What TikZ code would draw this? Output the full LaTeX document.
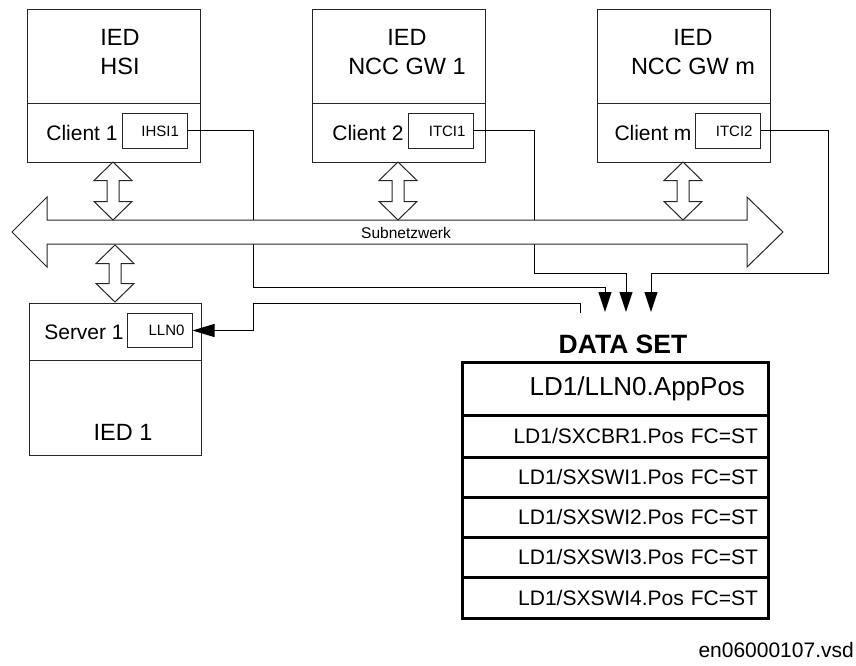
\documentclass[tikz,border=0pt]{standalone}
\usepackage{fontspec}
\setmainfont{Liberation Sans}
\usetikzlibrary{arrows.meta}

% vertical double-headed block arrow: centre x, top y, bottom y
\newcommand\blockdarrow[3]{%
  \draw[blockarrow] (#1,#2) -- (#1+19,#2+18.5) -- (#1+6,#2+18.5) -- (#1+6,#3-18.5)
    -- (#1+19,#3-18.5) -- (#1,#3) -- (#1-19,#3-18.5) -- (#1-6,#3-18.5)
    -- (#1-6,#2+18.5) -- (#1-19,#2+18.5) -- cycle;}

\tikzset{
  thinline/.style={draw=black!85, line width=1pt},
  iedbox/.style={thinline, anchor=north west, minimum width=173pt, minimum height=152pt,
    inner sep=0pt, outer sep=0pt},
  smallbox/.style={thinline, minimum width=65pt, minimum height=34pt, text width=49pt,
    align=right, inner xsep=8pt, inner ysep=0pt, outer sep=0pt,
    font=\fontsize{15}{18}\selectfont},
  biglabel/.style={align=center, inner sep=0pt, font=\fontsize{23.5}{29}\selectfont},
  midlabel/.style={inner sep=0pt, font=\fontsize{21}{25}\selectfont},
  blockarrow/.style={thinline, fill=white, line join=miter},
  feed/.style={draw=black, line width=1pt, -{Triangle[length=20pt,width=13pt]}},
  dsrow/.style={draw=black, line width=3pt, anchor=north west, minimum height=40pt,
    text width=286pt, inner xsep=10pt, inner ysep=0pt, outer sep=0pt, align=right,
    font=\fontsize{21}{24}\selectfont},
}

\begin{document}
\begin{tikzpicture}[x=1pt, y=-1pt]
\useasboundingbox (0,0) rectangle (856,666);

% IED boxes
\node[iedbox] (hsi)  at (27,10)  {};
\node[iedbox] (ncc1) at (312,10) {};
\node[iedbox] (nccm) at (597,10) {};
\node[iedbox, minimum width=172pt] (ied1) at (29,303) {};
\draw[thinline] (hsi.north west)  ++(0,94) -- ++(173,0);
\draw[thinline] (ncc1.north west) ++(0,94) -- ++(173,0);
\draw[thinline] (nccm.north west) ++(0,94) -- ++(173,0);
\draw[thinline] (ied1.north west) ++(0,57) -- ++(172,0);

\node[biglabel] (hsiname)  at (120,52) {IED\\HSI};
\node[biglabel] (ncc1name) at (407,52) {IED\\NCC GW 1};
\node[biglabel] (nccmname) at (693,52) {IED\\NCC GW m};
\node[biglabel] (ied1name) at (123,432) {IED 1};

\node[midlabel] (client1) at (82,133)  {Client 1};
\node[midlabel] (client2) at (368,133) {Client 2};
\node[midlabel] (clientm) at (653,133) {Client m};
\node[midlabel] (server1) at (84,332)  {Server 1};

\node[smallbox] (ihsi)  at (154.5,131) {IHSI1};
\node[smallbox] (itci1) at (441,131)   {ITCI1};
\node[smallbox] (itci2) at (728,131)   {ITCI2};
\node[smallbox] (lln0)  at (160,330.5) {LLN0};

% data set
\node[inner sep=0pt, font=\fontsize{26.5}{30}\selectfont\bfseries] (dstitle) at (623,344) {DATA SET};
\node[dsrow, minimum height=53pt, text width=260pt, inner xsep=23pt,
      font=\fontsize{26}{30}\selectfont] (dshdr) at (462,362) {LD1/LLN0.AppPos};
\node[dsrow, minimum height=42pt] (ds1) at (dshdr.south west) {LD1/SXCBR1.Pos FC=ST};
\node[dsrow] (ds2) at (ds1.south west) {LD1/SXSWI1.Pos FC=ST};
\node[dsrow] (ds3) at (ds2.south west) {LD1/SXSWI2.Pos FC=ST};
\node[dsrow] (ds4) at (ds3.south west) {LD1/SXSWI3.Pos FC=ST};
\node[dsrow, minimum height=41pt] (ds5) at (ds4.south west) {LD1/SXSWI4.Pos FC=ST};

% report connections into the data set
\coordinate (tip1) at (605,312);
\coordinate (tip2) at (626,312);
\coordinate (tip3) at (651,312);
\coordinate (dsfeed) at (580,313);
\draw[feed] (ihsi.east)  -| (253,287) -| (tip1);
\draw[feed] (itci1.east) -| (534,273) -| (tip2);
\draw[feed] (itci2.east) -| (828,273) -| (tip3);
\draw[draw=black, line width=1pt, -{Triangle[length=22pt,width=13pt]}]
  (dsfeed) |- (253,303) |- (lln0.east);

% subnetwork bus
\draw[blockarrow] (12,232) -- (47,197) -- (47,220) -- (747,220) -- (747,197) -- (783,232)
  -- (747,267) -- (747,244) -- (47,244) -- (47,267) -- cycle;
\node[inner sep=0pt, font=\fontsize{15.5}{18}\selectfont] (subnet) at (406,233) {Subnetzwerk};

% access arrows between devices and bus
\blockdarrow{113}{162}{220}
\blockdarrow{398}{162}{220}
\blockdarrow{683}{162}{220}
\blockdarrow{115}{245}{302}

\node[anchor=east, inner sep=0pt, font=\fontsize{21}{25}\selectfont] (fileid) at (854,650) {en06000107.vsd};
\end{tikzpicture}
\end{document}
